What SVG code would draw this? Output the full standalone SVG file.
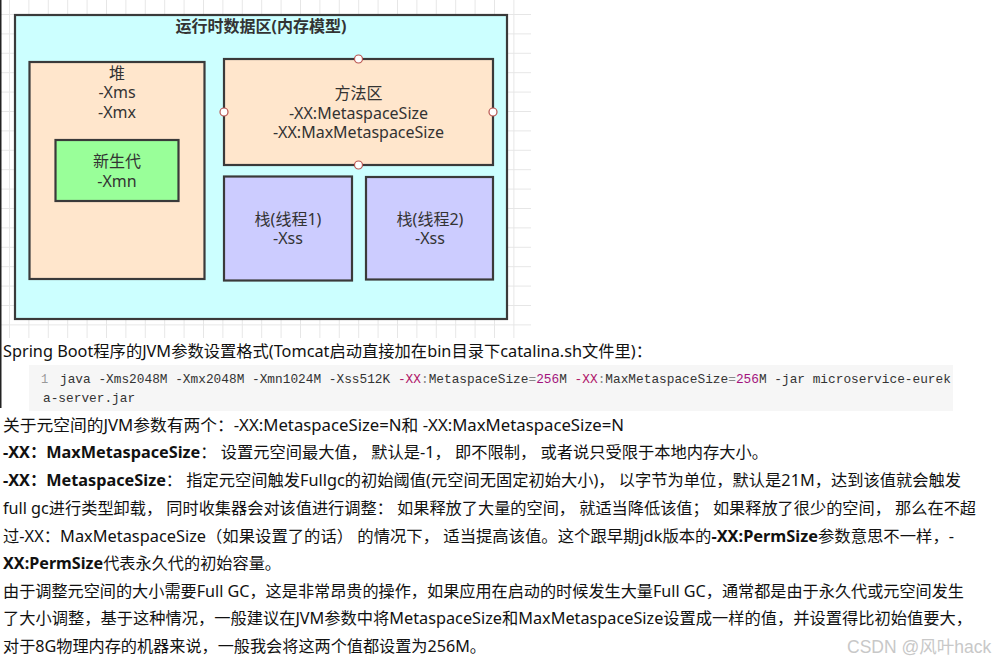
<svg xmlns="http://www.w3.org/2000/svg" width="998" height="665" viewBox="0 0 998 665">
<defs>
<pattern id="grid" x="9" y="14" width="19.4" height="19.4" patternUnits="userSpaceOnUse">
<path d="M0 0.5H19.4M0.5 0V19.4" fill="none" stroke="#e6e6e6" stroke-width="1"/>
</pattern>
</defs>
<style>
.box{stroke:#3a3a3a;stroke-width:2.2}
.dt{font-family:"Noto Sans","Noto Sans CJK SC",sans-serif;font-size:16px;fill:#333;text-anchor:middle}
.title{font-weight:bold}
.handle{fill:#fff;stroke:#b85450;stroke-width:1.2}
.bt{font-family:"Noto Sans","Noto Sans CJK SC",sans-serif;font-size:16px;fill:#111}
.b{font-weight:bold}
.code{font-family:"Liberation Mono","DejaVu Sans Mono",monospace;font-size:12.8px;fill:#333}
.kw{fill:#b0176a}
.num{fill:#a3147e}
.op{fill:#888}
</style>
<rect x="0" y="0" width="998" height="665" fill="#fff"/>
<rect x="0" y="0" width="531" height="338" fill="url(#grid)"/>
<rect x="0" y="0" width="1.5" height="408" fill="#222"/>

<g id="runtime-area">
<rect class="box" x="15" y="15" width="492" height="304" fill="#ccffff"/>
<text class="dt title" x="261" y="32">运行时数据区(内存模型)</text>
</g>
<g id="heap">
<rect class="box" x="29.5" y="62" width="175" height="217" fill="#ffe6cc"/>
<text class="dt" x="117" y="79">堆</text>
<text class="dt" x="117" y="98">-Xms</text>
<text class="dt" x="117" y="118">-Xmx</text>
</g>
<g id="young-gen">
<rect class="box" x="55.5" y="140" width="123" height="61" fill="#99ff99"/>
<text class="dt" x="117" y="167">新生代</text>
<text class="dt" x="117" y="187">-Xmn</text>
</g>
<g id="method-area">
<rect class="box" x="224" y="59" width="269" height="106" fill="#ffe6cc"/>
<text class="dt" x="358.5" y="99">方法区</text>
<text class="dt" x="358.5" y="118.5">-XX:MetaspaceSize</text>
<text class="dt" x="358.5" y="138">-XX:MaxMetaspaceSize</text>
</g>
<g id="stack1">
<rect class="box" x="224" y="176.5" width="128" height="104" fill="#ccccff"/>
<text class="dt" x="288" y="225">栈(线程1)</text>
<text class="dt" x="288" y="244">-Xss</text>
</g>
<g id="stack2">
<rect class="box" x="366" y="177" width="127" height="102.5" fill="#ccccff"/>
<text class="dt" x="430" y="225">栈(线程2)</text>
<text class="dt" x="430" y="244">-Xss</text>
</g>
<g id="connectors">
<circle class="handle" cx="358.5" cy="59" r="4"/>
<circle class="handle" cx="224" cy="112" r="4"/>
<circle class="handle" cx="493" cy="112" r="4"/>
<circle class="handle" cx="358.5" cy="165" r="4"/>
</g>

<g id="text-body">
<text class="bt" x="3" y="357" textLength="649" lengthAdjust="spacingAndGlyphs">Spring Boot程序的JVM参数设置格式(Tomcat启动直接加在bin目录下catalina.sh文件里)：</text>
<rect x="29" y="365" width="924" height="46" fill="#f6f6f6"/>
<text class="code" x="41" y="383" style="fill:#999;font-size:12px">1</text>
<text class="code" x="60" y="383">java -Xms2048M -Xmx2048M -Xmn1024M -Xss512K <tspan class="kw">-XX</tspan><tspan class="op">:</tspan>MetaspaceSize<tspan class="op">=</tspan><tspan class="num">256</tspan>M <tspan class="kw">-XX</tspan><tspan class="op">:</tspan>MaxMetaspaceSize<tspan class="op">=</tspan><tspan class="num">256</tspan>M -jar microservice-eurek</text>
<text class="code" x="43" y="402">a-server.jar</text>
<text class="bt" x="3" y="431" textLength="621" lengthAdjust="spacingAndGlyphs">关于元空间的JVM参数有两个：-XX:MetaspaceSize=N和 -XX:MaxMetaspaceSize=N</text>
<text class="bt" x="3" y="458" textLength="765" lengthAdjust="spacingAndGlyphs"><tspan class="b">-XX：MaxMetaspaceSize</tspan>： 设置元空间最大值， 默认是-1， 即不限制， 或者说只受限于本地内存大小。</text>
<text class="bt" x="3" y="486" textLength="958" lengthAdjust="spacingAndGlyphs"><tspan class="b">-XX：MetaspaceSize</tspan>： 指定元空间触发Fullgc的初始阈值(元空间无固定初始大小)， 以字节为单位，默认是21M，达到该值就会触发</text>
<text class="bt" x="3" y="514" textLength="973" lengthAdjust="spacingAndGlyphs">full gc进行类型卸载， 同时收集器会对该值进行调整： 如果释放了大量的空间， 就适当降低该值； 如果释放了很少的空间， 那么在不超</text>
<text class="bt" x="3" y="542" textLength="951" lengthAdjust="spacingAndGlyphs">过-XX：MaxMetaspaceSize（如果设置了的话） 的情况下， 适当提高该值。这个跟早期jdk版本的<tspan class="b">-XX:PermSize</tspan>参数意思不一样，-</text>
<text class="bt" x="3" y="569" textLength="278" lengthAdjust="spacingAndGlyphs"><tspan class="b">XX:PermSize</tspan>代表永久代的初始容量。</text>
<text class="bt" x="3" y="597" textLength="961" lengthAdjust="spacingAndGlyphs">由于调整元空间的大小需要Full GC，这是非常昂贵的操作，如果应用在启动的时候发生大量Full GC，通常都是由于永久代或元空间发生</text>
<text class="bt" x="3" y="624" textLength="969" lengthAdjust="spacingAndGlyphs">了大小调整，基于这种情况，一般建议在JVM参数中将MetaspaceSize和MaxMetaspaceSize设置成一样的值，并设置得比初始值要大，</text>
<text class="bt" x="3" y="652" textLength="483" lengthAdjust="spacingAndGlyphs">对于8G物理内存的机器来说，一般我会将这两个值都设置为256M。</text>
<text x="847" y="653" style="font-family:'Liberation Sans','Noto Sans CJK SC',sans-serif;font-size:17.5px;fill:#c8c8c8">CSDN @风叶hack</text>
</g>
</svg>
